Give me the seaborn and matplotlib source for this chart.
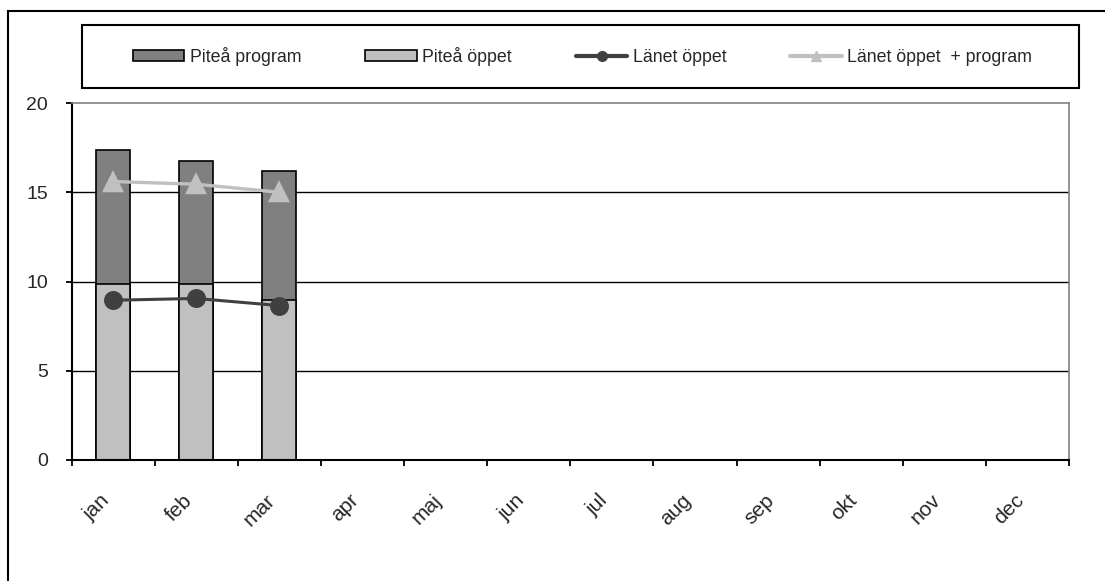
import numpy as np
import pandas as pd
import matplotlib
matplotlib.use("Agg")
import matplotlib.pyplot as plt
import matplotlib.transforms as mtransforms
from matplotlib.patches import Patch, Rectangle
from matplotlib.lines import Line2D
import seaborn as sns

months = ['jan', 'feb', 'mar', 'apr', 'maj', 'jun',
          'jul', 'aug', 'sep', 'okt', 'nov', 'dec']
data_months = ['jan', 'feb', 'mar']
pitea_oppet = [9.85, 9.85, 8.95]
pitea_program = [7.5, 6.9, 7.25]
lanet_oppet = [8.95, 9.05, 8.65]
lanet_oppet_program = [15.6, 15.45, 15.0]
yticks = [0, 5, 10, 15, 20]

df = pd.DataFrame({'month': data_months,
                   'oppet': pitea_oppet,
                   'program': pitea_program,
                   'lan': lanet_oppet,
                   'lan_tot': lanet_oppet_program})
df['total'] = df['oppet'] + df['program']

sns.set_style("white")
plt.rcParams['font.family'] = ['Liberation Sans', 'DejaVu Sans']

W, H = 1105, 581
fig = plt.figure(figsize=(W/100, H/100), dpi=100)
ax = fig.add_axes([71.5/W, 1-460/H, (1069-71.5)/W, (460-103)/H])

dark = '#808080'
light = '#c0c0c0'

# stacked bars: full height first, then the "öppet" part over it
sns.barplot(data=df, x='month', y='total', order=months, color=dark,
            saturation=1, width=0.41, edgecolor='black', linewidth=1.2, ax=ax)
sns.barplot(data=df, x='month', y='oppet', order=months, color=light,
            saturation=1, width=0.41, edgecolor='black', linewidth=1.2, ax=ax)

sns.pointplot(data=df, x='month', y='lan_tot', order=months, color=light,
              markers='^', errorbar=None, markersize=12.5, linewidth=2.4, ax=ax)
sns.pointplot(data=df, x='month', y='lan', order=months, color='#404040',
              markers='o', errorbar=None, markersize=12, linewidth=2.2, ax=ax)

ax.set_xlim(-0.5, 11.5)
ax.set_ylim(0, 20)
ax.set_yticks(yticks)
ax.set_yticklabels([str(v) for v in yticks], fontsize=14)
ax.set_xticks(range(len(months)))
ax.set_xticklabels(months, rotation=45, ha='right', fontsize=15)
shift = mtransforms.ScaledTranslation(0.07, 0, fig.dpi_scale_trans)
for lbl in ax.get_xticklabels():
    lbl.set_transform(lbl.get_transform() + shift)
ax.set_xticks(np.arange(-0.5, 12, 1), minor=True)
ax.tick_params(axis='x', which='major', length=0, pad=22)
ax.tick_params(axis='x', which='minor', length=4, width=1.3, color='black',
               direction='out', bottom=True)
ax.tick_params(axis='y', length=4, width=1.3, color='black', direction='out',
               left=True, pad=13)
ax.set_xlabel('')
ax.set_ylabel('')

for v in [5, 10, 15]:
    ax.axhline(v, color='black', linewidth=1.0, zorder=0.5)

for s in ['left', 'bottom']:
    ax.spines[s].set_color('black')
    ax.spines[s].set_linewidth(1.5)
for s in ['top', 'right']:
    ax.spines[s].set_color(dark)
    ax.spines[s].set_linewidth(1.2)

handles = [
    Patch(facecolor=dark, edgecolor='black', linewidth=1.2),
    Patch(facecolor=light, edgecolor='black', linewidth=1.2),
    Line2D([], [], color='#404040', linewidth=3, marker='o', markersize=7),
    Line2D([], [], color=light, linewidth=3, marker='^', markersize=7),
]
labels = ['Piteå program', 'Piteå öppet', 'Länet öppet', 'Länet öppet  + program']
fig.legend(handles, labels, loc='center', ncol=4, frameon=False,
           bbox_to_anchor=(582.5/W, 1-56.5/H), bbox_transform=fig.transFigure,
           fontsize=12.8, handlelength=2.9, handleheight=0.55,
           handletextpad=0.3, columnspacing=3.6)

# legend box and chart frame
fig.add_artist(Rectangle((82/W, 1-88/H), 997/W, 63/H, transform=fig.transFigure,
                         fill=False, edgecolor='black', linewidth=1.5))
fig.add_artist(Rectangle((8/W, -0.1), 1.2, 1.1-11/H, transform=fig.transFigure,
                         fill=False, edgecolor='black', linewidth=1.5,
                         clip_on=False))

fig.savefig('out.png', dpi=100)
